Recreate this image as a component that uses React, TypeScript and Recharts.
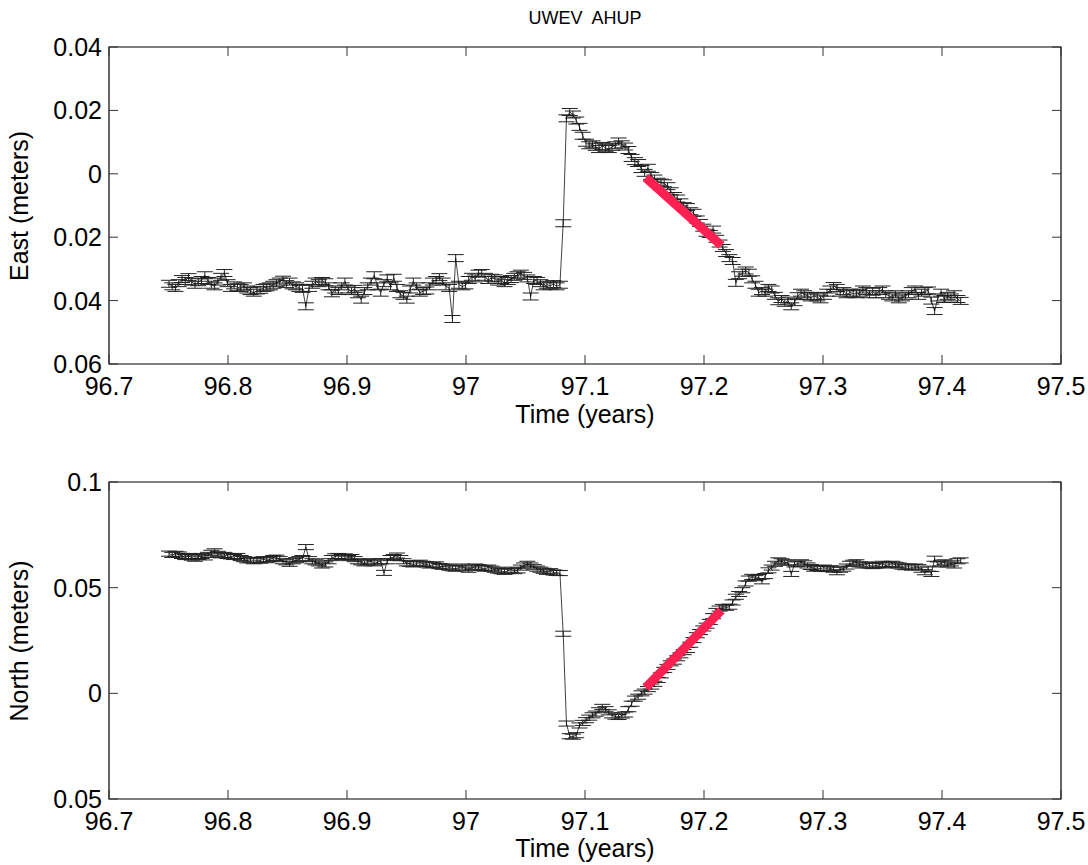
import { ErrorBar, Line, LineChart, ReferenceArea, XAxis, YAxis } from "recharts";

// daily GPS solutions, values in millimetres (converted to metres below)
const T0 = 96.7504;
const DAYS_PER_YEAR = 365.25;

const eastMm = [
  -34.7, -35.5, -36.0, -34.5, -33.2, -33.8, -32.6, -34.0, -35.0, -34.2,
  -33.5, -32.0, -33.8, -35.0, -35.5, -34.0, -32.5, -31.3, -34.5, -36.0,
  -35.2, -35.8, -36.0, -35.5, -36.5, -37.0, -37.5, -36.8, -36.6, -36.0,
  -35.8, -35.5, -35.0, -34.5, -34.0, -33.4, -34.8, -34.0, -35.2, -35.5,
  -36.0, -36.3, -41.8, -36.0, -35.0, -34.0, -34.5, -33.8, -34.2, -35.5,
  -37.7, -36.5, -37.0, -35.5, -34.0, -36.5, -37.0, -36.3, -38.0, -39.7,
  -37.0, -35.5, -34.0, -32.0, -35.5, -37.5, -34.5, -33.0, -35.5, -32.8,
  -36.0, -38.0, -38.5, -39.7, -36.5, -34.0, -35.5, -37.5, -37.0, -36.8,
  -35.5, -34.0, -33.5, -32.6, -34.0, -35.5, -36.0, -45.8, -26.6, -35.0,
  -35.5, -35.2, -33.5, -32.5, -33.0, -31.5, -31.3, -32.5, -33.5, -32.8,
  -33.0, -34.0, -33.5, -34.5, -33.8, -33.2, -32.5, -32.0, -31.5, -32.2,
  -33.0, -38.7, -33.5, -33.8, -34.5, -35.5, -35.0, -35.3, -34.8, -35.5,
  -35.0, -15.6, 17.5, 19.5, 18.7, 16.8, 14.8, 12.0, 9.8, 9.0,
  9.3, 8.5, 7.8, 8.8, 8.2, 7.8, 8.5, 9.0, 10.2, 9.3,
  8.6, 7.5, 5.0, 4.0, 3.4, 1.5, 0.3, 1.9, -0.7, -1.5,
  -2.5, -2.8, -3.0, -3.9, -5.5, -7.0, -7.8, -9.0, -10.2, -10.5,
  -11.8, -12.3, -14.4, -15.5, -17.0, -18.6, -19.0, -17.6, -20.5, -22.0,
  -23.4, -25.0, -26.6, -27.5, -34.4, -32.0, -31.2, -30.5, -31.2, -33.3,
  -35.0, -37.5, -37.0, -37.5, -36.0, -36.5, -38.5, -40.2, -39.5, -40.7,
  -40.0, -41.8, -40.5, -38.6, -37.5, -38.0, -38.5, -39.0, -38.6, -39.0,
  -39.6, -38.5, -37.5, -36.5, -35.4, -36.0, -37.5, -37.0, -38.0, -37.5,
  -37.8, -38.0, -37.5, -36.5, -37.0, -38.0, -37.2, -38.0, -37.0, -36.5,
  -38.0, -38.5, -39.0, -38.0, -39.6, -39.0, -38.5, -38.0, -37.0, -36.5,
  -38.5, -37.5, -37.0, -36.8, -40.0, -43.3, -39.0, -37.5, -39.5, -38.5,
  -39.0, -38.0, -39.5, -40.1,
];

const northMm = [
  66.1, 65.5, 66.0, 65.7, 65.0, 64.5, 65.0, 64.2, 63.7, 64.5,
  65.0, 64.3, 65.5, 66.5, 67.2, 66.0, 65.3, 65.5, 65.0, 64.8,
  64.5, 65.0, 64.0, 63.5, 62.9, 63.2, 62.5, 63.0, 62.8, 63.5,
  63.0, 63.5, 64.0, 64.2, 63.5, 62.5, 62.0, 61.3, 62.5, 63.0,
  63.5, 64.0, 69.2, 63.5, 62.5, 62.0, 61.5, 60.5, 61.0, 62.5,
  64.0, 64.8, 65.0, 64.5, 64.8, 64.0, 64.5, 63.5, 62.5, 62.0,
  61.5, 62.0, 62.5, 61.5, 62.0, 62.5, 57.0, 62.5, 64.0, 64.5,
  65.2, 64.0, 62.5, 61.5, 61.3, 61.0, 61.5, 61.8, 61.3, 61.0,
  60.5, 60.8, 61.0, 60.2, 59.9, 60.0, 59.5, 59.2, 59.0, 59.5,
  60.0, 59.1, 58.5, 59.5, 60.0, 59.7, 59.3, 59.0, 59.5, 59.0,
  58.5, 58.1, 57.8, 57.5, 58.0, 58.5, 57.8, 58.2, 59.5, 60.5,
  61.3, 60.5, 59.7, 59.0, 58.5, 58.0, 57.5, 57.8, 57.2, 57.0,
  56.9, 28.2, -14.3, -20.3, -20.5, -19.8, -15.2, -14.0, -12.7, -11.5,
  -10.4, -9.6, -8.0, -6.4, -7.5, -9.0, -10.4, -11.0, -11.2, -10.5,
  -10.0, -7.5, -4.9, -2.5, -1.6, 0.0, 0.8, 2.0, 3.2, 4.5,
  6.3, 8.5, 11.1, 12.5, 14.2, 15.0, 16.6, 18.0, 19.5, 20.5,
  23.0, 25.2, 27.5, 29.0, 30.7, 32.0, 33.8, 36.5, 39.0, 40.1,
  40.9, 40.5, 41.0, 43.0, 45.7, 47.0, 48.8, 52.0, 54.3, 55.1,
  54.5, 55.0, 53.0, 55.5, 58.2, 59.5, 61.3, 62.9, 62.5, 62.0,
  61.8, 56.5, 61.0, 61.3, 62.0, 61.5, 60.5, 59.8, 59.0, 59.3,
  59.0, 59.5, 58.8, 59.2, 58.5, 57.3, 58.5, 59.0, 60.0, 61.3,
  61.8, 62.0, 61.0, 60.5, 61.0, 60.5, 60.2, 60.5, 60.8, 61.3,
  60.5, 61.0, 61.3, 60.8, 60.5, 60.0, 59.7, 60.0, 59.5, 60.0,
  59.7, 58.5, 57.3, 59.0, 56.5, 63.7, 61.0, 61.5, 62.0, 61.0,
  61.5, 60.5, 62.5, 62.9,
];

const EAST_ERR_MM = 1.1;
const NORTH_ERR_MM = 1.2;

// fitted red segments
const fitT = [97.151, 97.2145];
const fitEastMm = [-1.2, -22.6];
const fitNorthMm = [2.7, 39.3];

const xTicks = [96.7, 96.8, 96.9, 97, 97.1, 97.2, 97.3, 97.4, 97.5];
const eastTicks = [-0.06, -0.04, -0.02, 0, 0.02, 0.04];
const eastTickLabels = ["0.06", "0.04", "0.02", "0", "0.02", "0.04"];
const northTicks = [-0.05, 0, 0.05, 0.1];
const northTickLabels = ["0.05", "0", "0.05", "0.1"];

const data = eastMm.map((e, i) => ({
  t: T0 + i / DAYS_PER_YEAR,
  east: e / 1000,
  eErr: EAST_ERR_MM / 1000,
  north: northMm[i] / 1000,
  nErr: NORTH_ERR_MM / 1000,
}));
const fitEast = fitT.map((t, i) => ({ t, v: fitEastMm[i] / 1000 }));
const fitNorth = fitT.map((t, i) => ({ t, v: fitNorthMm[i] / 1000 }));

const FONT = "'Liberation Sans', Arial, Helvetica, sans-serif";
const W = 1080;
const H = 414;
const PLOT = { left: 101, top: 39, right: 1053, bottom: 356 };
const TICK_LEN = 9;
const TICK_FONT = 25;
const RED = "#FF2052";

function XTick({ x, payload }: any) {
  const v = payload.value;
  return (
    <g>
      <line x1={x} x2={x} y1={PLOT.bottom} y2={PLOT.bottom - TICK_LEN} stroke="#333" />
      <line x1={x} x2={x} y1={PLOT.top} y2={PLOT.top + TICK_LEN} stroke="#333" />
      <text x={x} y={PLOT.bottom + 31} textAnchor="middle" fontSize={TICK_FONT} fontFamily={FONT} fill="#000">
        {String(+v.toFixed(1))}
      </text>
    </g>
  );
}

function makeYTick(ticks: number[], labels: string[]) {
  return function YTick({ y, payload }: any) {
    const idx = ticks.findIndex((t) => Math.abs(t - payload.value) < 1e-9);
    return (
      <g>
        <line x1={PLOT.left} x2={PLOT.left + TICK_LEN} y1={y} y2={y} stroke="#333" />
        <line x1={PLOT.right} x2={PLOT.right - TICK_LEN} y1={y} y2={y} stroke="#333" />
        <text x={PLOT.left - 7} y={y + 9} textAnchor="end" fontSize={TICK_FONT} fontFamily={FONT} fill="#000">
          {labels[idx]}
        </text>
      </g>
    );
  };
}

const EastTick = makeYTick(eastTicks, eastTickLabels);
const NorthTick = makeYTick(northTicks, northTickLabels);

function Panel({ valueKey, errKey, fit, ticks, tick, domain }: any) {
  return (
    <LineChart width={W} height={H} data={data} margin={{ top: PLOT.top, right: W - PLOT.right, left: 0, bottom: 0 }}>
      <XAxis
        dataKey="t"
        type="number"
        domain={[96.7, 97.5]}
        ticks={xTicks}
        interval={0}
        allowDataOverflow
        height={H - PLOT.bottom}
        axisLine={false}
        tickLine={false}
        tick={<XTick />}
      />
      <YAxis
        type="number"
        domain={domain}
        ticks={ticks}
        interval={0}
        allowDataOverflow
        width={PLOT.left}
        axisLine={false}
        tickLine={false}
        tick={tick}
      />
      <ReferenceArea x1={96.7} x2={97.5} y1={domain[0]} y2={domain[1]} fill="none" stroke="#000" strokeWidth={1.2} />
      <Line dataKey={valueKey} stroke="#111" strokeWidth={0.8} dot={false} isAnimationActive={false}>
        <ErrorBar dataKey={errKey} width={8} stroke="#222" strokeWidth={1} direction="y" isAnimationActive={false} />
      </Line>
      <Line data={fit} dataKey="v" stroke={RED} strokeWidth={9} strokeLinecap="butt" dot={false} isAnimationActive={false} />
    </LineChart>
  );
}

const labelStyle: any = {
  position: "absolute",
  fontFamily: FONT,
  fontSize: 25,
  lineHeight: "20px",
  color: "#000",
  whiteSpace: "pre",
  textAlign: "center",
};

export default function App() {
  // pinned to the viewport so nothing overflows the page and adds scrollbars
  return (
    <div style={{ position: "absolute", left: 0, top: 0, width: 1088, height: 865, overflow: "hidden", background: "#fff" }}>
      <div style={{ position: "absolute", left: 8, top: 8, width: W, height: 857 }}>
        <div style={{ ...labelStyle, left: PLOT.left, top: 0, width: PLOT.right - PLOT.left, fontSize: 18 }}>
          {"UWEV  AHUP"}
        </div>
        <div style={{ position: "absolute", left: 0, top: 0 }}>
          <Panel valueKey="east" errKey="eErr" fit={fitEast} ticks={eastTicks} tick={<EastTick />} domain={[-0.06, 0.04]} />
        </div>
        <div style={{ position: "absolute", left: 0, top: 435 }}>
          <Panel valueKey="north" errKey="nErr" fit={fitNorth} ticks={northTicks} tick={<NorthTick />} domain={[-0.05, 0.1]} />
        </div>
        <div style={{ ...labelStyle, left: PLOT.left, top: 396, width: PLOT.right - PLOT.left }}>Time (years)</div>
        <div style={{ ...labelStyle, left: PLOT.left, top: 830, width: PLOT.right - PLOT.left }}>Time (years)</div>
        <div style={{ ...labelStyle, left: -139, top: 187.5, width: 300, transform: "rotate(-90deg)" }}>East (meters)</div>
        <div style={{ ...labelStyle, left: -139, top: 622.5, width: 300, transform: "rotate(-90deg)" }}>North (meters)</div>
      </div>
    </div>
  );
}
